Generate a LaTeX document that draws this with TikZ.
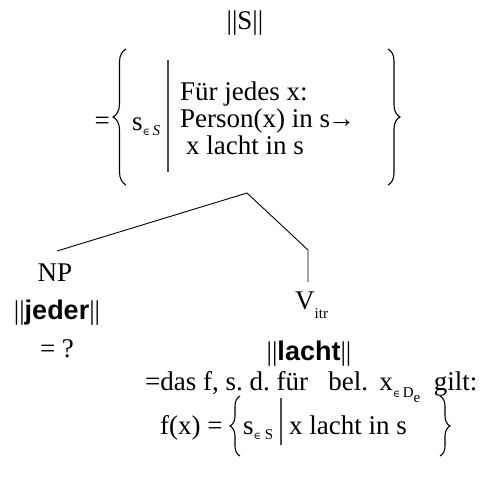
\documentclass[tikz,border=0pt]{standalone}
\usepackage{fontspec}
\setmainfont{Liberation Serif}
\newfontfamily\hv{Liberation Sans}
\newfontfamily\sym{DejaVu Serif}
\usetikzlibrary{decorations.pathreplacing}
\newcommand\sub[2][-5pt]{\raisebox{#1}{\fontsize{15}{15}\selectfont #2}}
\newcommand\elem{{\sym\fontsize{10}{10}\selectfont ∈}}
\tikzset{
  txt/.style={inner sep=0pt, font=\fontsize{27}{30}\selectfont},
  lbrace/.style={draw, line width=1.1pt, decoration={brace, amplitude=#1}, decorate},
  setbar/.style={draw=black!70, line width=1.4pt},
  edge/.style={draw, line width=0.9pt}
}
\begin{document}
\begin{tikzpicture}[x=1pt,y=-1pt]
\useasboundingbox (0,0) rectangle (481,477);
% top formula
\node[txt,anchor=base] (S) at (245,29) {||S||};
\node[txt,anchor=base east] (eq1) at (110,129) {=};
\draw[lbrace=13pt] (126,185) -- (126,49);
\node[txt,anchor=base west] (s1) at (132,130) {s\sub{\elem\,\textit{S}}};
\draw[setbar] (168,60) -- (168,172);
\node[txt,anchor=base west] (l1) at (180,100) {Für jedes x:};
\node[txt,anchor=base west] (l2) at (180,127) {Person(x) in s\kern-2pt→};
\node[txt,anchor=base west] (l3) at (186,154) {x lacht in s};
\draw[lbrace=12pt] (388,49) -- (388,185);
% tree
\coordinate (apex) at (247,193);
\coordinate (npend) at (57,251);
\coordinate (vbend) at (308,250);
\coordinate (vend) at (308,282);
\draw[edge] (npend) -- (apex) -- (vbend) -- (vend);
% left daughter
\node[txt,anchor=base] (NP) at (55,281) {NP};
\node[txt,anchor=base] (jeder) at (57,319) {||{\hv\bfseries jeder}||};
\node[txt,anchor=base] (q) at (57,357) {= ?};
% right daughter
\node[txt,anchor=base west] (V) at (295,309) {V\sub[-9pt]{itr}};
\node[txt,anchor=base] (lacht) at (309,360) {||{\hv\bfseries lacht}||};
\node[txt,anchor=base west] (das) at (145,390) {=das f,\ s.\ d.\ für\ \ \ bel.\ \,x\sub[-7pt]{\elem\,D\sub[-5pt]{e}}\ \ gilt:};
\node[txt,anchor=base west] (fx) at (160,434) {f(x) =};
\draw[lbrace=10pt] (240,456) -- (240,396);
\node[txt,anchor=base west] (s2) at (243,434) {s\sub{\elem\ S}};
\draw[setbar] (281,398) -- (281,445);
\node[txt,anchor=base west] (l4) at (289,434) {x lacht in s};
\draw[lbrace=10pt] (440,396) -- (440,456);
\end{tikzpicture}
\end{document}
